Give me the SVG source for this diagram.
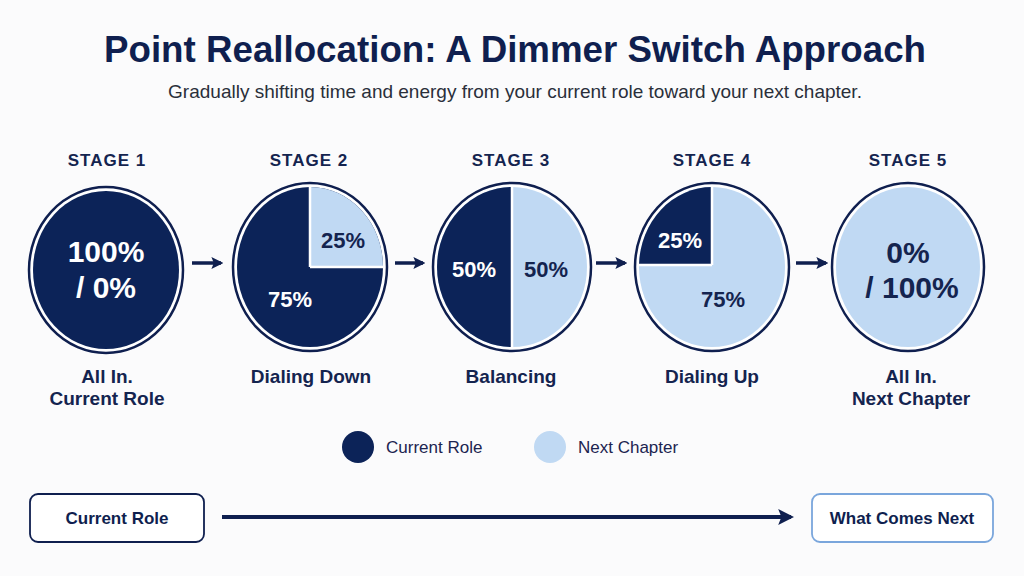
<svg xmlns="http://www.w3.org/2000/svg" width="1024" height="576" viewBox="0 0 1024 576">
<style>
.title{font-family:"Liberation Sans",Arial,sans-serif;font-weight:bold;font-size:36px;fill:#0f1f4f;text-anchor:middle}
.sub{font-family:"Liberation Sans",Arial,sans-serif;font-size:19px;fill:#2a2f3a;text-anchor:middle}
.stage{font-family:"Liberation Sans",Arial,sans-serif;font-weight:bold;font-size:17px;fill:#14244f;text-anchor:middle;letter-spacing:1px}
.lbl{font-family:"Liberation Sans",Arial,sans-serif;font-weight:bold;font-size:19px;fill:#14244f;text-anchor:middle}
.big{font-family:"Liberation Sans",Arial,sans-serif;font-weight:bold;font-size:30px;text-anchor:middle}
.pct{font-family:"Liberation Sans",Arial,sans-serif;font-weight:bold;font-size:22px;text-anchor:middle}
.w{fill:#ffffff}
.n{fill:#14244f}
.ring{fill:#ffffff;stroke:#0f1f4f;stroke-width:2.5}
.dark{fill:#0c2358}
.light{fill:#c0d9f3}
.sep{stroke:#ffffff;stroke-width:2.5}
.leg{font-family:"Liberation Sans",Arial,sans-serif;font-size:17px;fill:#1c2450}
.btn{font-family:"Liberation Sans",Arial,sans-serif;font-weight:bold;font-size:17px;fill:#0f1f4f;text-anchor:middle}
.conn{stroke:#0f1f4f;fill:none}
</style>
<defs>
<marker id="ah" viewBox="0 0 10 10" refX="8" refY="5" markerWidth="12" markerHeight="14" markerUnits="userSpaceOnUse" orient="auto">
<path d="M0,0 L10,5 L0,10 L2,5 Z" fill="#0f1f4f"/>
</marker>
<marker id="ahb" viewBox="0 0 10 10" refX="8" refY="5" markerWidth="16" markerHeight="20" markerUnits="userSpaceOnUse" orient="auto">
<path d="M0,0 L10,5 L0,10 L2,5 Z" fill="#0f1f4f"/>
</marker>
</defs>
<rect width="1024" height="576" fill="#fbfbfc"/>
<text class="title" x="515" y="62" textLength="822" lengthAdjust="spacingAndGlyphs">Point Reallocation: A Dimmer Switch Approach</text>
<text class="sub" x="515" y="98">Gradually shifting time and energy from your current role toward your next chapter.</text>

<g id="stage1">
<text class="stage" x="107" y="166">STAGE 1</text>
<ellipse class="ring" cx="106" cy="270" rx="77" ry="83"/>
<ellipse class="dark" cx="106" cy="270" rx="73" ry="79"/>
<text class="big w" x="106" y="262">100%</text>
<text class="big w" x="106" y="298">/ 0%</text>
<text class="lbl" x="107" y="383">All In.</text>
<text class="lbl" x="107" y="405">Current Role</text>
</g>

<g id="stage2">
<text class="stage" x="309" y="166">STAGE 2</text>
<ellipse class="ring" cx="310" cy="267" rx="77" ry="84"/>
<ellipse class="dark" cx="310" cy="267" rx="73" ry="80"/>
<path class="light" d="M310,267 L310,187 A73,80 0 0 1 383,267 Z"/>
<path class="sep" d="M310,267 L310,187 M310,267 L383,267"/>
<text class="pct n" x="343" y="248">25%</text>
<text class="pct w" x="290" y="307">75%</text>
<text class="lbl" x="311" y="383">Dialing Down</text>
</g>

<g id="stage3">
<text class="stage" x="511" y="166">STAGE 3</text>
<ellipse class="ring" cx="512" cy="267" rx="79" ry="84"/>
<ellipse class="light" cx="512" cy="267" rx="75" ry="80"/>
<path class="dark" d="M512,187 A75,80 0 0 0 512,347 Z"/>
<path class="sep" d="M512,187 L512,347"/>
<text class="pct w" x="474" y="277">50%</text>
<text class="pct n" x="546" y="277">50%</text>
<text class="lbl" x="511" y="383">Balancing</text>
</g>

<g id="stage4">
<text class="stage" x="712" y="166">STAGE 4</text>
<ellipse class="ring" cx="712" cy="267" rx="77" ry="84"/>
<ellipse class="light" cx="712" cy="267" rx="73" ry="80"/>
<path class="dark" d="M712,265 L712,187 A73,80 0 0 0 639,265 Z"/>
<path class="sep" d="M712,265 L712,187 M712,265 L639,265"/>
<text class="pct w" x="680" y="248">25%</text>
<text class="pct n" x="723" y="307">75%</text>
<text class="lbl" x="712" y="383">Dialing Up</text>
</g>

<g id="stage5">
<text class="stage" x="908" y="166">STAGE 5</text>
<ellipse class="ring" cx="908" cy="267" rx="76" ry="84"/>
<ellipse class="light" cx="908" cy="267" rx="72" ry="80"/>
<text class="big n" x="908" y="263">0%</text>
<text class="big n" x="912" y="298">/ 100%</text>
<text class="lbl" x="911" y="383">All In.</text>
<text class="lbl" x="911" y="405">Next Chapter</text>
</g>

<g id="legend">
<circle cx="358" cy="447" r="16" class="dark"/>
<text class="leg" x="386" y="453">Current Role</text>
<circle cx="550" cy="447" r="16" class="light"/>
<text class="leg" x="578" y="453">Next Chapter</text>
</g>

<g id="box-current">
<rect x="30" y="494" width="174" height="48" rx="8" fill="#ffffff" stroke="#0f1f4f" stroke-width="1.8"/>
<text class="btn" x="117" y="524">Current Role</text>
</g>
<g id="box-next">
<rect x="812" y="494" width="181" height="48" rx="8" fill="#ffffff" stroke="#7aa6dc" stroke-width="1.8"/>
<text class="btn" x="902" y="524">What Comes Next</text>
</g>

<g id="connectors">
<line class="conn" x1="192" y1="263" x2="221" y2="263" stroke-width="3.5" marker-end="url(#ah)"/>
<line class="conn" x1="395" y1="263" x2="423" y2="263" stroke-width="3.5" marker-end="url(#ah)"/>
<line class="conn" x1="596" y1="263" x2="625" y2="263" stroke-width="3.5" marker-end="url(#ah)"/>
<line class="conn" x1="796" y1="263" x2="826" y2="263" stroke-width="3.5" marker-end="url(#ah)"/>
<line class="conn" x1="222" y1="517" x2="791" y2="517" stroke-width="4" marker-end="url(#ahb)"/>
</g>
</svg>
